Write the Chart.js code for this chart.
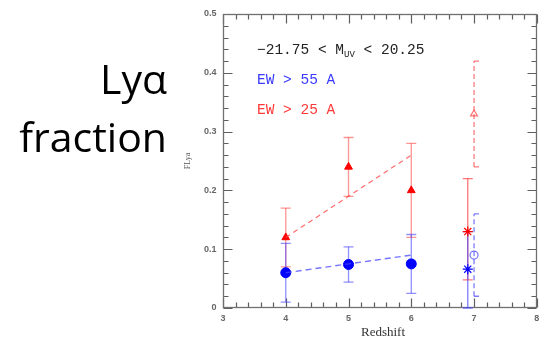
<!DOCTYPE html>
<html>
<head>
<meta charset="utf-8">
<script src="https://cdn.jsdelivr.net/npm/chart.js"></script>
<style>
  body { margin: 0; background: #fff; }
  #wrap { position: relative; width: 543px; height: 340px; overflow: hidden; }
  #chart { position: absolute; left: 0; top: 0; }
  .big { position: absolute; left: 0; width: 167px; text-align: right; font-family: "Open Sans", sans-serif; font-size: 41px; line-height: 41px; color: #000; }
  .note { position: absolute; left: 257px; font-family: "Liberation Mono", monospace; font-size: 14.5px; line-height: 16px; white-space: pre; }
  .note sub { font-size: 9px; vertical-align: -3px; }
</style>
</head>
<body>
<div id="wrap">
  <canvas id="chart" width="543" height="340"></canvas>
  <div class="big" style="top:58px">Lyα</div>
  <div class="big" style="top:116px">fraction</div>
  <div class="note" style="top:42px;color:#222">−21.75 &lt; M<sub>UV</sub> &lt; 20.25</div>
  <div class="note" style="top:72px;color:#3a3aff">EW &gt; 55 A</div>
  <div class="note" style="top:102px;color:#ff3a3a">EW &gt; 25 A</div>
</div>
<script>
// redshift bins and measured Lya fractions
const redshift = [4, 5, 6];
const fracWeak = [0.12, 0.24, 0.20];      // EW > 25 A
const errWeak = [0.05, 0.05, 0.08];
const fracStrong = [0.06, 0.074, 0.075];  // EW > 55 A
const errStrong = [0.05, 0.03, 0.05];
const trendWeak = [0.12, 0.19, 0.26];
const trendStrong = [0.06, 0.075, 0.09];

// z ~ 7 points
const zLae = [6.9];
const laeWeak = [0.13], laeWeakLo = [0.048], laeWeakHi = [0.22];
const laeStrong = [0.066], laeStrongLo = [0.0], laeStrongHi = [0.13];
const zLbg = [7.0];
const lbgWeak = [0.33], lbgWeakLo = [0.24], lbgWeakHi = [0.42];
const lbgStrong = [0.09], lbgStrongLo = [0.02], lbgStrongHi = [0.16];

const xTicks = [3, 4, 5, 6, 7, 8];
const yTicks = [0, 0.1, 0.2, 0.3, 0.4, 0.5];

const RED = '#ff0000', BLUE = '#0000ff';

function pts(xs, ys) {
  return xs.map((x, i) => ({ x: x, y: ys[i] }));
}

const errorBars = {
  id: 'errorBars',
  beforeDatasetsDraw(chart) {
    const ctx = chart.ctx, xs = chart.scales.x, ys = chart.scales.y;
    const a = chart.chartArea;
    const L = Math.round(a.left) + 0.5, R = Math.round(a.right) - 0.5;
    const T = Math.round(a.top) + 0.5, B = Math.round(a.bottom) - 0.5;

    ctx.save();
    ctx.strokeStyle = '#5e5e5e';
    ctx.lineWidth = 1.2;

    // inward ticks on all four sides
    ctx.beginPath();
    for (let i = 0; i <= 25; i++) {
      const px = Math.round(xs.getPixelForValue(3 + i * 0.2)) + 0.5;
      const len = i % 5 === 0 ? 9 : 5;
      ctx.moveTo(px, B); ctx.lineTo(px, B - len);
      ctx.moveTo(px, T); ctx.lineTo(px, T + len);
    }
    for (let i = 0; i <= 25; i++) {
      const py = Math.round(ys.getPixelForValue(i * 0.02)) + 0.5;
      const len = i % 5 === 0 ? 9 : 5;
      ctx.moveTo(L, py); ctx.lineTo(L + len, py);
      ctx.moveTo(R, py); ctx.lineTo(R - len, py);
    }
    ctx.stroke();

    // frame
    ctx.strokeStyle = '#707070';
    ctx.lineWidth = 1.3;
    ctx.strokeRect(L, T, R - L, B - T);

    // tick labels
    ctx.fillStyle = '#666';
    ctx.font = 'bold 9px "Liberation Sans", Arial, sans-serif';
    ctx.textAlign = 'right';
    ctx.textBaseline = 'middle';
    yTicks.forEach(v => ctx.fillText(v === 0 ? '0' : v.toFixed(1), L - 7, ys.getPixelForValue(v)));
    ctx.textAlign = 'center';
    xTicks.forEach(v => ctx.fillText(String(v), xs.getPixelForValue(v), B + 11));

    // axis titles
    ctx.fillStyle = '#333';
    ctx.font = '13px "Liberation Serif", serif';
    ctx.fillText('Redshift', 383, 333);
    ctx.save();
    ctx.translate(188, 161);
    ctx.rotate(-Math.PI / 2);
    ctx.font = '8px "Liberation Serif", serif';
    ctx.fillStyle = '#555';
    ctx.fillText('FLya', 0, 0);
    ctx.restore();

    // error bars
    chart.data.datasets.forEach((ds, di) => {
      if (!ds.errLow || !chart.isDatasetVisible(di)) return;
      ctx.save();
      ctx.strokeStyle = ds.errColor;
      ctx.lineWidth = 1.3;
      ds.data.forEach((p, i) => {
        const x = xs.getPixelForValue(p.x);
        const yl = ys.getPixelForValue(ds.errLow[i]);
        const yh = ys.getPixelForValue(ds.errHigh[i]);
        ctx.setLineDash(ds.errDash || []);
        ctx.beginPath();
        ctx.moveTo(x, yl); ctx.lineTo(x, yh);
        ctx.stroke();
        ctx.setLineDash([]);
        const c0 = ds.capRightOnly ? 0 : -5, c1 = 5;
        ctx.beginPath();
        ctx.moveTo(x + c0, yl); ctx.lineTo(x + c1, yl);
        ctx.moveTo(x + c0, yh); ctx.lineTo(x + c1, yh);
        ctx.stroke();
      });
      ctx.restore();
    });
    ctx.restore();
  }
};

const datasets = [
  {
    data: pts(redshift, trendWeak), showLine: true, pointRadius: 0,
    borderColor: 'rgba(255,70,70,0.8)', borderWidth: 1.2, borderDash: [5, 4]
  },
  {
    data: pts(redshift, trendStrong), showLine: true, pointRadius: 0,
    borderColor: 'rgba(70,70,255,0.75)', borderWidth: 1.4, borderDash: [6, 4]
  },
  {
    data: pts(redshift, fracWeak), pointStyle: 'triangle', pointRadius: 4.5,
    backgroundColor: RED, borderColor: RED, borderWidth: 1,
    errLow: fracWeak.map((v, i) => v - errWeak[i]), errHigh: fracWeak.map((v, i) => v + errWeak[i]),
    errColor: 'rgba(255,60,60,0.55)'
  },
  {
    data: pts(redshift, fracStrong), pointStyle: 'circle', pointRadius: 5,
    backgroundColor: BLUE, borderColor: BLUE, borderWidth: 1,
    errLow: fracStrong.map((v, i) => v - errStrong[i]), errHigh: fracStrong.map((v, i) => v + errStrong[i]),
    errColor: 'rgba(70,70,255,0.6)'
  },
  {
    data: pts(zLae, laeWeak), pointStyle: 'star', pointRadius: 5,
    borderColor: RED, borderWidth: 1.2,
    errLow: laeWeakLo, errHigh: laeWeakHi, errColor: 'rgba(255,60,60,0.7)'
  },
  {
    data: pts(zLae, laeStrong), pointStyle: 'star', pointRadius: 5,
    borderColor: BLUE, borderWidth: 1.2,
    errLow: laeStrongLo, errHigh: laeStrongHi, errColor: 'rgba(70,70,255,0.7)'
  },
  {
    data: pts(zLbg, lbgWeak), pointStyle: 'triangle', pointRadius: 4,
    backgroundColor: 'rgba(0,0,0,0)', borderColor: 'rgba(255,80,80,0.8)', borderWidth: 1.2,
    errLow: lbgWeakLo, errHigh: lbgWeakHi, errColor: 'rgba(255,80,80,0.75)',
    errDash: [5, 3], capRightOnly: true
  },
  {
    data: pts(zLbg, lbgStrong), pointStyle: 'circle', pointRadius: 4,
    backgroundColor: 'rgba(0,0,0,0)', borderColor: 'rgba(80,80,255,0.8)', borderWidth: 1.2,
    errLow: lbgStrongLo, errHigh: lbgStrongHi, errColor: 'rgba(80,80,255,0.75)',
    errDash: [5, 3], capRightOnly: true
  }
];

new Chart(document.getElementById('chart'), {
  type: 'scatter',
  data: { datasets: datasets },
  options: {
    responsive: false,
    animation: false,
    layout: { padding: { left: 223, right: 1, top: 14, bottom: 32 } },
    plugins: { legend: { display: false }, tooltip: { enabled: false } },
    scales: {
      x: { type: 'linear', min: 3, max: 8, display: false },
      y: { type: 'linear', min: 0, max: 0.5, display: false }
    }
  },
  plugins: [errorBars]
});
</script>
</body>
</html>
